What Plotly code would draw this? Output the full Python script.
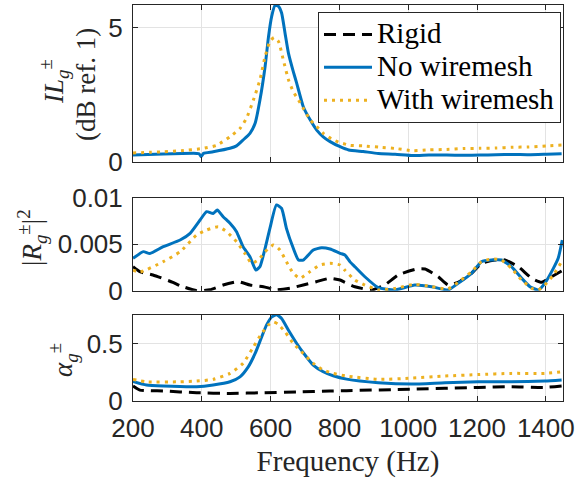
import plotly.graph_objects as go

# ---------------- data ----------------
# Top panel: insertion loss IL (dB ref. 1)
il_nomesh_f = [200, 288, 385, 392, 398, 405, 433, 482, 501, 520, 540, 555, 569, 584, 594, 603, 613, 623,
               632, 642, 652, 666, 676, 695, 715, 734, 753, 773, 802, 827, 869, 913, 962, 1014, 1060,
               1112, 1160, 1209, 1255, 1305, 1350, 1402, 1446]
il_nomesh_v = [0.26, 0.30, 0.32, 0.31, 0.20, 0.32, 0.38, 0.51, 0.60, 0.82, 1.07, 1.44, 2.31, 3.56, 4.68,
               5.42, 5.84, 5.80, 5.55, 4.80, 4.05, 3.37, 2.93, 2.06, 1.57, 1.19, 0.94, 0.76, 0.57, 0.45,
               0.39, 0.32, 0.29, 0.24, 0.26, 0.26, 0.25, 0.26, 0.27, 0.28, 0.27, 0.29, 0.31]
il_mesh_f = [200, 250, 291, 340, 400, 443, 482, 511, 530, 550, 569, 584, 598, 610, 623, 637, 652, 666,
             681, 695, 715, 734, 753, 782, 802, 831, 869, 918, 965, 1014, 1060, 1112, 1160, 1209, 1255,
             1305, 1350, 1402, 1446]
il_mesh_v = [0.34, 0.36, 0.38, 0.42, 0.50, 0.62, 0.94, 1.25, 1.63, 2.31, 3.06, 3.93, 4.49, 4.64, 4.49,
             3.80, 3.06, 2.62, 2.31, 2.00, 1.57, 1.32, 1.07, 0.82, 0.72, 0.62, 0.60, 0.55, 0.50, 0.42,
             0.45, 0.47, 0.50, 0.51, 0.52, 0.55, 0.56, 0.60, 0.63]

# Middle panel: |R|^2
r_nomesh_f = [200, 230, 249, 288, 337, 366, 395, 414, 433, 445, 462, 482, 501, 520, 540, 557, 569, 584,
              598, 617, 632, 646, 666, 681, 695, 724, 748, 773, 802, 816, 831, 845, 874, 913, 961, 1019,
              1068, 1116, 1145, 1184, 1213, 1242, 1271, 1300, 1330, 1354, 1378, 1397, 1422, 1436, 1448]
r_nomesh_v = [0.00348, 0.00420, 0.00400, 0.00473, 0.00545, 0.00617, 0.00760, 0.00850, 0.00830, 0.00868,
              0.00796, 0.00725, 0.00635, 0.00473, 0.00366, 0.00223, 0.00258, 0.00456, 0.00671, 0.00922,
              0.00886, 0.00671, 0.00456, 0.00330, 0.00330, 0.00438, 0.00462, 0.00448, 0.00402, 0.00384,
              0.00310, 0.00258, 0.00150, 0.00032, 0.00008, 0.00061, 0.00043, 0.00008, 0.00079, 0.00187,
              0.00312, 0.00330, 0.00330, 0.00258, 0.00133, 0.00043, 0.00008, 0.00079, 0.00240, 0.00348,
              0.00545]
r_mesh_f = [200, 220, 288, 337, 385, 414, 448, 472, 501, 525, 545, 564, 584, 608, 627, 646, 666, 685,
            714, 743, 773, 802, 816, 845, 874, 913, 961, 1019, 1068, 1116, 1145, 1184, 1213, 1242, 1271,
            1300, 1330, 1359, 1378, 1397, 1422, 1446]
r_mesh_v = [0.00220, 0.00200, 0.00312, 0.00419, 0.00599, 0.00653, 0.00688, 0.00635, 0.00527, 0.00402,
            0.00294, 0.00330, 0.00419, 0.00491, 0.00438, 0.00312, 0.00187, 0.00133, 0.00204, 0.00276,
            0.00294, 0.00276, 0.00220, 0.00115, 0.00061, 0.00008, 0.00025, 0.00068, 0.00043, 0.00020,
            0.00090, 0.00204, 0.00312, 0.00340, 0.00330, 0.00240, 0.00115, 0.00025, 0.00008, 0.00061,
            0.00169, 0.00312]
r_rigid_f = [200, 220, 258, 316, 337, 385, 424, 462, 506, 540, 579, 617, 656, 695, 733, 772, 802, 816,
             845, 894, 932, 971, 1024, 1049, 1087, 1116, 1145, 1184, 1213, 1252, 1281, 1320, 1359, 1388,
             1417, 1446]
r_rigid_v = [0.00258, 0.00204, 0.00169, 0.00090, 0.00054, 0.00000, 0.00010, 0.00061, 0.00097, 0.00061,
             0.00043, 0.00010, 0.00027, 0.00061, 0.00097, 0.00133, 0.00115, 0.00090, 0.00043, 0.00008,
             0.00061, 0.00169, 0.00233, 0.00233, 0.00150, 0.00061, 0.00090, 0.00187, 0.00294, 0.00330,
             0.00330, 0.00258, 0.00133, 0.00090, 0.00150, 0.00212]

# Bottom panel: absorption alpha
a_nomesh_f = [200, 239, 288, 385, 433, 482, 511, 535, 555, 574, 588, 603, 617, 632, 652, 676, 700, 724,
              753, 782, 821, 913, 1010, 1107, 1204, 1300, 1397, 1446]
a_nomesh_v = [0.170, 0.139, 0.130, 0.124, 0.139, 0.167, 0.210, 0.297, 0.413, 0.557, 0.659, 0.730, 0.750,
              0.717, 0.615, 0.500, 0.400, 0.312, 0.254, 0.219, 0.190, 0.159, 0.147, 0.159, 0.167, 0.167,
              0.173, 0.182]
a_mesh_f = [200, 239, 337, 385, 433, 482, 520, 550, 574, 593, 608, 622, 642, 666, 695, 724, 753, 782,
            821, 913, 1010, 1107, 1204, 1300, 1397, 1446]
a_mesh_v = [0.188, 0.167, 0.167, 0.173, 0.188, 0.240, 0.327, 0.470, 0.587, 0.659, 0.687, 0.667, 0.600,
            0.500, 0.413, 0.327, 0.269, 0.240, 0.217, 0.188, 0.199, 0.217, 0.230, 0.240, 0.240, 0.254]
a_rigid_f = [200, 220, 288, 385, 482, 579, 676, 772, 821, 1010, 1204, 1300, 1397, 1446]
a_rigid_v = [0.130, 0.095, 0.087, 0.072, 0.066, 0.072, 0.078, 0.087, 0.090, 0.103, 0.118, 0.124, 0.118,
             0.130]

x_ticks = [200, 400, 600, 800, 1000, 1200, 1400]
names = ["Rigid", "No wiremesh", "With wiremesh"]

# ---------------- styling ----------------
BLUE = "#0072BD"
YELLOW = "#EDB120"
BLACK = "#000000"
AX = "#262626"
GRID = "#e3e3e3"
SANS = "Liberation Sans, Arial, sans-serif"
SERIF = "Liberation Serif, Times New Roman, serif"

W, H = 575, 480
ML, MR, MT, MB = 133, 12, 5, 79
ph = H - MT - MB


def dom(top_px, bot_px):
    return [(H - MB - bot_px) / ph, (H - MB - top_px) / ph]


rigid_line = dict(color=BLACK, width=3, dash="12px,7px")
nomesh_line = dict(color=BLUE, width=3)
mesh_line = dict(color=YELLOW, width=3, dash="3px,5px")

fig = go.Figure()


def leg(name):
    return '<span style="font-size:29px">' + name + '</span>'


def add(xs, ys, line, name, ax, show):
    fig.add_trace(go.Scatter(x=xs, y=ys, mode="lines", line=dict(**line, shape="spline", smoothing=0.5),
                             name=leg(name), showlegend=show,
                             legendrank={"Rigid": 1, "No wiremesh": 2, "With wiremesh": 3}[name],
                             xaxis="x" + ax, yaxis="y" + ax))


# top
add(il_nomesh_f, il_nomesh_v, nomesh_line, names[1], "", True)
add(il_mesh_f, il_mesh_v, mesh_line, names[2], "", True)
# middle
add(r_rigid_f, r_rigid_v, rigid_line, names[0], "2", True)
add(r_nomesh_f, r_nomesh_v, nomesh_line, names[1], "2", False)
add(r_mesh_f, r_mesh_v, mesh_line, names[2], "2", False)
# bottom
add(a_rigid_f, a_rigid_v, rigid_line, names[0], "3", False)
add(a_nomesh_f, a_nomesh_v, nomesh_line, names[1], "3", False)
add(a_mesh_f, a_mesh_v, mesh_line, names[2], "3", False)

common_ax = dict(showline=True, linecolor=AX, linewidth=1, mirror="ticks", ticks="inside", ticklen=5,
                 tickcolor=AX, tickwidth=1, showgrid=True, gridcolor=GRID, gridwidth=1, zeroline=False,
                 automargin=False, ticklabeloverflow="allow",
                 tickfont=dict(family=SANS, size=26, color=AX))

xcommon = dict(common_ax, range=[200, 1450], tickvals=x_ticks)

fig.update_layout(
    width=W, height=H,
    margin=dict(l=ML, r=MR, t=MT, b=MB, autoexpand=False),
    paper_bgcolor="white", plot_bgcolor="white",
    xaxis=dict(xcommon, domain=[0, 1], anchor="y", showticklabels=False),
    xaxis2=dict(xcommon, domain=[0, 1], anchor="y2", matches="x", showticklabels=False),
    xaxis3=dict(xcommon, domain=[0, 1], anchor="y3", matches="x", ticklabelstandoff=4,
                title=dict(text="Frequency (Hz)", font=dict(family=SERIF, size=29, color=AX), standoff=8)),
    yaxis=dict(common_ax, domain=dom(5, 162), anchor="x", range=[0, 5.85], tickvals=[0, 5],
               ticklabelstandoff=4),
    yaxis2=dict(common_ax, domain=dom(197.7, 290.7), anchor="x2", range=[0, 0.01],
                tickvals=[0, 0.005, 0.01], ticktext=["0", "0.005", "0.01"], ticklabelstandoff=4),
    yaxis3=dict(common_ax, domain=dom(314.7, 401), anchor="x3", range=[0, 0.75], tickvals=[0, 0.5],
                ticktext=["0", "0.5"], ticklabelstandoff=4),
    legend=dict(x=(318 - ML) / (W - ML - MR), y=(H - MB - 12) / ph, xanchor="left", yanchor="top",
                bgcolor="white", bordercolor=AX, borderwidth=1,
                font=dict(family=SERIF, size=23, color=BLACK), itemwidth=48,
                tracegroupgap=0, traceorder="normal"),
    showlegend=True,
)


def px_to_paper_x(px):
    return (px - ML) / (W - ML - MR)


def py_to_paper_y(py):
    return (H - MB - py) / ph


labels = [
    ("<i>IL</i><sub><i>g</i></sub><sup>±</sup>", 54, 82),
    ("(dB ref. 1)", 86, 85),
    ("|<i>R</i><sub><i>g</i></sub><sup>±</sup>|<sup>2</sup>", 32, 238),
    ("<i>α</i><sub><i>g</i></sub><sup>±</sup>", 63, 360),
]
for text, px, py in labels:
    fig.add_annotation(text=text, x=px_to_paper_x(px), y=py_to_paper_y(py), xref="paper", yref="paper",
                       xanchor="center", yanchor="middle", showarrow=False, textangle=-90,
                       font=dict(family=SERIF, size=27, color=AX))

fig.write_html("out.html")
